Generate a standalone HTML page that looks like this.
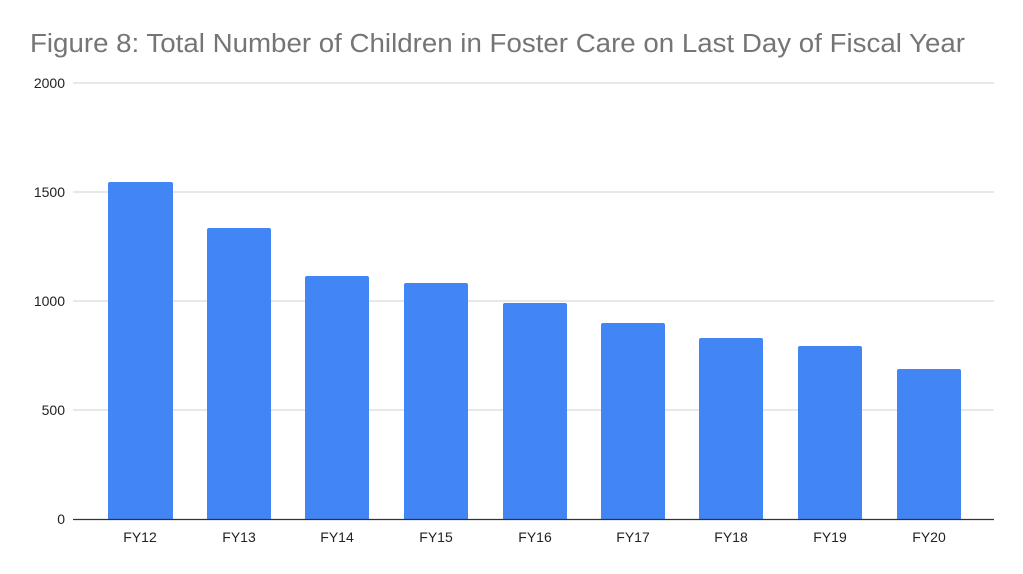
<!DOCTYPE html><html><head><style>body{margin:0;background:#fff}svg{display:block}</style></head><body>
<svg width="1023" height="574" xmlns="http://www.w3.org/2000/svg" font-family="Liberation Sans, Arial, sans-serif">
<rect width="1023" height="574" fill="#fff"/>
<text x="30" y="52" font-size="25.5" fill="#757575" textLength="935" lengthAdjust="spacingAndGlyphs">Figure 8: Total Number  of Children in Foster Care on Last Day of Fiscal Year</text>
<g stroke="#d9d9d9" stroke-width="1.3">
<line x1="73" x2="994" y1="83" y2="83"/><line x1="73" x2="994" y1="192" y2="192"/><line x1="73" x2="994" y1="301" y2="301"/><line x1="73" x2="994" y1="410" y2="410"/></g>
<g font-size="14" fill="#222" text-anchor="end">
<text x="65" y="88">2000</text><text x="65" y="197">1500</text><text x="65" y="306">1000</text><text x="65" y="415">500</text><text x="65" y="524">0</text></g>
<g fill="#4285f4">
<path d="M108 519V184a2 2 0 0 1 2-2h61a2 2 0 0 1 2 2V519z"/>
<path d="M207 519V230a2 2 0 0 1 2-2h60a2 2 0 0 1 2 2V519z"/>
<path d="M305 519V278a2 2 0 0 1 2-2h60a2 2 0 0 1 2 2V519z"/>
<path d="M404 519V285a2 2 0 0 1 2-2h60a2 2 0 0 1 2 2V519z"/>
<path d="M503 519V305a2 2 0 0 1 2-2h60a2 2 0 0 1 2 2V519z"/>
<path d="M601 519V325a2 2 0 0 1 2-2h60a2 2 0 0 1 2 2V519z"/>
<path d="M699 519V340a2 2 0 0 1 2-2h60a2 2 0 0 1 2 2V519z"/>
<path d="M798 519V348a2 2 0 0 1 2-2h60a2 2 0 0 1 2 2V519z"/>
<path d="M897 519V371a2 2 0 0 1 2-2h60a2 2 0 0 1 2 2V519z"/>
</g>
<line x1="73" x2="994" y1="519.5" y2="519.5" stroke="#333" stroke-width="1.3"/>
<g font-size="14" fill="#222" text-anchor="middle">
<text x="140" y="542">FY12</text><text x="239" y="542">FY13</text><text x="337" y="542">FY14</text><text x="436" y="542">FY15</text><text x="535" y="542">FY16</text><text x="633" y="542">FY17</text><text x="731" y="542">FY18</text><text x="830" y="542">FY19</text><text x="929" y="542">FY20</text></g>
</svg></body></html>
